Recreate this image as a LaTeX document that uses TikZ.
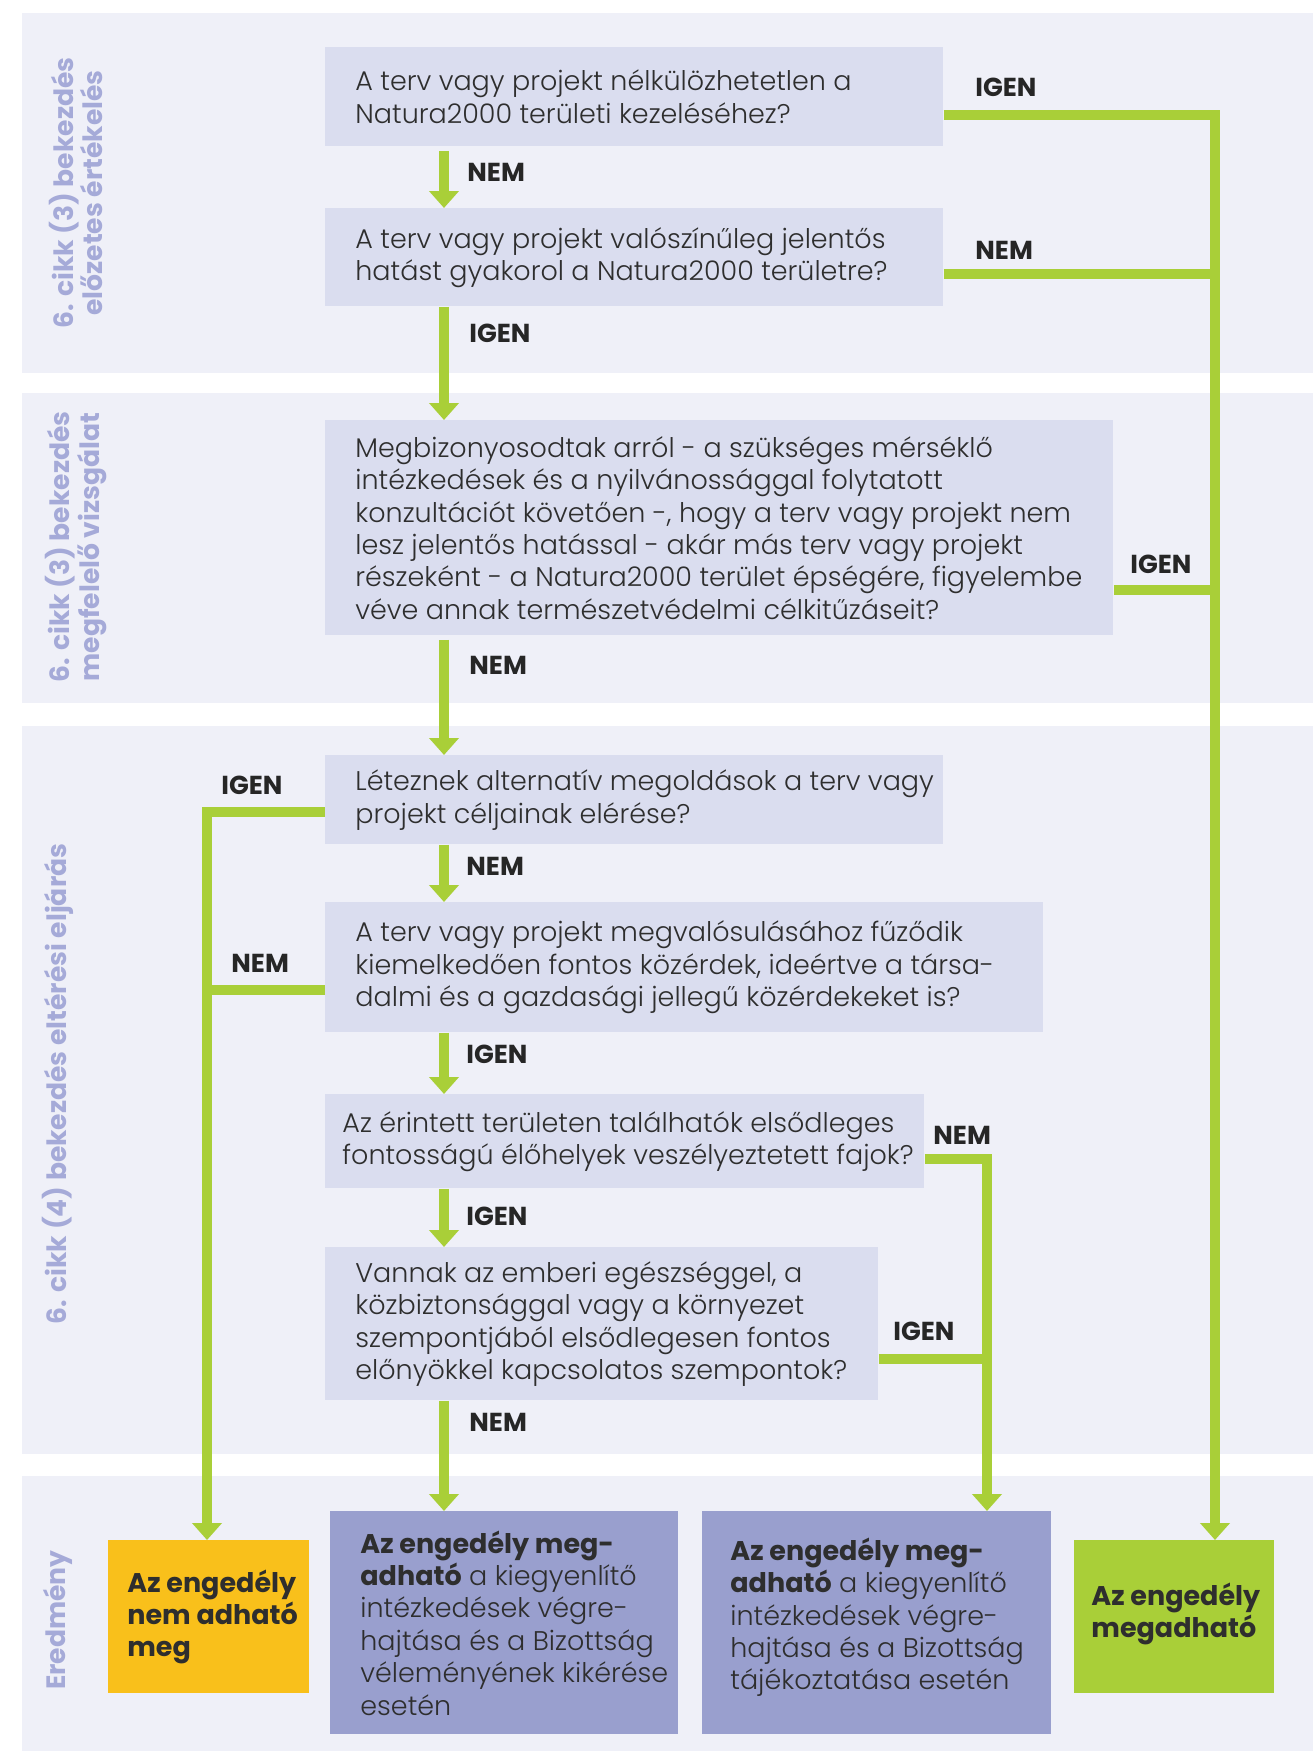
\documentclass[tikz,border=0pt]{standalone}
\usepackage{fontspec}
\setmainfont{Poppins}[UprightFont={* Light},BoldFont={* Bold}]
\usetikzlibrary{arrows.meta,positioning}
\definecolor{bandc}{HTML}{EFF0F8}
\definecolor{boxc}{HTML}{DADDEF}
\definecolor{greenc}{HTML}{A9CF38}
\definecolor{orangec}{HTML}{F9C01B}
\definecolor{purplec}{HTML}{999FCE}
\definecolor{sidec}{HTML}{A5AAD8}
\definecolor{txtc}{HTML}{2E2E2E}
\begin{document}
\begin{tikzpicture}[x=0.5pt,y=-0.5pt,
  qbox/.style={fill=boxc, inner sep=0pt, anchor=north west},
  rbox/.style={inner sep=0pt, anchor=north west},
  qtext/.style={anchor=west, align=left, inner sep=0pt, text=txtc,
    font=\fontsize{13.5}{16.2}\selectfont},
  conn/.style={draw=greenc, line width=5pt},
  arr/.style={conn, -{Triangle[width=14.5pt,length=8.5pt]}},
  yesno/.style={anchor=west, inner sep=0pt, text=black!85,
    font=\bfseries\fontsize{13}{15}\selectfont},
  side/.style={rotate=90, align=center, inner sep=0pt, text=sidec,
    font=\bfseries\fontsize{13.3}{13}\selectfont}]
  \useasboundingbox (0,0) rectangle (1313,1751);
  % bands
  \fill[bandc] (22,13) rectangle (1313,373);
  \fill[bandc] (22,393) rectangle (1313,703);
  \fill[bandc] (22,726) rectangle (1313,1454);
  \fill[bandc] (22,1476) rectangle (1313,1751);
  \node[side] (s1) at (76,193) {6. cikk (3) bekezdés\\előzetes értékelés};
  \node[side] (s2) at (76,547) {6. cikk (3) bekezdés\\megfelelő vizsgálat};
  \node[side] (s3) at (58,1084) {6. cikk (4) bekezdés eltérési eljárás};
  \node[side] (s4) at (58,1620) {Eredmény};
  % questions
  \node[qbox, minimum width=309pt, minimum height=49.5pt] (q1) at (325,47) {};
  \node[qtext] (q1t) at ([xshift=15pt]q1.west)
    {A terv vagy projekt nélkülözhetetlen a\\Natura2000 területi kezeléséhez?};
  \node[qbox, minimum width=309pt, minimum height=49pt] (q2) at (325,208) {};
  \node[qtext] (q2t) at ([xshift=15pt]q2.west)
    {A terv vagy projekt valószínűleg jelentős\\hatást gyakorol a Natura2000 területre?};
  \node[qbox, minimum width=394pt, minimum height=107.5pt] (q3) at (325,420) {};
  \node[qtext] (q3t) at ([xshift=15pt]q3.west)
    {Megbizonyosodtak arról - a szükséges mérséklő\\intézkedések és a nyilvánossággal folytatott\\konzultációt követően -, hogy a terv vagy projekt nem\\lesz jelentős hatással - akár más terv vagy projekt\\részeként - a Natura2000 terület épségére, figyelembe\\véve annak természetvédelmi célkitűzáseit?};
  \node[qbox, minimum width=309pt, minimum height=44.5pt] (q4) at (325,755) {};
  \node[qtext] (q4t) at ([xshift=15pt]q4.west)
    {Léteznek alternatív megoldások a terv vagy\\projekt céljainak elérése?};
  \node[qbox, minimum width=359pt, minimum height=65pt] (q5) at (325,902) {};
  \node[qtext] (q5t) at ([xshift=15pt]q5.west)
    {A terv vagy projekt megvalósulásához fűződik\\kiemelkedően fontos közérdek, ideértve a társa-\\dalmi és a gazdasági jellegű közérdekeket is?};
  \node[qbox, minimum width=299.5pt, minimum height=47pt] (q6) at (325,1094) {};
  \node[qtext] (q6t) at ([xshift=8.5pt]q6.west)
    {Az érintett területen találhatók elsődleges\\fontosságú élőhelyek veszélyeztetett fajok?};
  \node[qbox, minimum width=276.5pt, minimum height=76.5pt] (q7) at (325,1247) {};
  \node[qtext] (q7t) at ([xshift=15pt]q7.west)
    {Vannak az emberi egészséggel, a\\közbiztonsággal vagy a környezet\\szempontjából elsődlegesen fontos\\előnyökkel kapcsolatos szempontok?};
  % results
  \node[rbox, fill=orangec, minimum width=100.5pt, minimum height=76.5pt] (r1) at (108,1540) {};
  \node[qtext] (r1t) at ([xshift=9.5pt]r1.west)
    {\textbf{Az engedély}\\\textbf{nem adható}\\\textbf{meg}};
  \node[rbox, fill=purplec, minimum width=174pt, minimum height=111.5pt] (r2) at (330,1511) {};
  \node[qtext] (r2t) at ([xshift=15pt]r2.west)
    {\textbf{Az engedély meg-}\\\textbf{adható} a kiegyenlítő\\intézkedések végre-\\hajtása és a Bizottság\\véleményének kikérése\\esetén};
  \node[rbox, fill=purplec, minimum width=174.5pt, minimum height=111.5pt] (r3) at (702,1511) {};
  \node[qtext] (r3t) at ([xshift=14pt,yshift=2.8pt]r3.west)
    {\textbf{Az engedély meg-}\\\textbf{adható} a kiegyenlítő\\intézkedések végre-\\hajtása és a Bizottság\\tájékoztatása esetén};
  \node[rbox, fill=greenc, minimum width=100pt, minimum height=76.5pt] (r4) at (1074,1540) {};
  \node[qtext] (r4t) at ([xshift=8.5pt,yshift=1.5pt]r4.west)
    {\textbf{Az engedély}\\\textbf{megadható}};
  % connectors
  \coordinate (rl) at (1215,0);
  \coordinate (ll) at (207,0);
  \coordinate (ml) at (987,0);
  \draw[arr] ([xshift=59.5pt,yshift=-2pt]q1.south west) -- ([xshift=59.5pt]q2.north west);
  \draw[arr] ([xshift=59.5pt]q2.south west) -- ([xshift=59.5pt]q3.north west);
  \draw[arr] ([xshift=59.5pt,yshift=-2pt]q3.south west) -- ([xshift=59.5pt]q4.north west);
  \draw[arr] ([xshift=59.5pt]q4.south west) -- ([xshift=59.5pt]q5.north west);
  \draw[arr] ([xshift=59.5pt]q5.south west) -- ([xshift=59.5pt]q6.north west);
  \draw[arr] ([xshift=59.5pt]q6.south west) -- ([xshift=59.5pt]q7.north west);
  \draw[arr] ([xshift=59.5pt]q7.south west) -- ([xshift=59.5pt]q7.south west |- r2.north);
  \draw[arr] ([yshift=-9.25pt]q1.east) -| (rl |- r4.north);
  \draw[conn] ([yshift=-8.5pt]q2.east) -- ([yshift=-8.5pt]q2.east -| rl);
  \draw[conn] ([yshift=-31pt]q3.east) -- ([yshift=-31pt]q3.east -| rl);
  \draw[arr] ([yshift=-6.25pt]q4.west) -| (ll |- r1.north);
  \draw[conn] ([yshift=-11.5pt]q5.west) -- ([yshift=-11.5pt]q5.west -| ll);
  \draw[arr] ([yshift=-9pt]q6.east) -| (ml |- r3.north);
  \draw[conn] ([yshift=-17.75pt]q7.east) -- ([yshift=-17.75pt]q7.east -| ml);
  % answers
  \node[yesno] (l1) at (467,172) {NEM};
  \node[yesno] (l2) at (975,87) {IGEN};
  \node[yesno] (l3) at (975,250) {NEM};
  \node[yesno] (l4) at (469,333) {IGEN};
  \node[yesno] (l5) at (1130,564) {IGEN};
  \node[yesno] (l6) at (469,665) {NEM};
  \node[yesno] (l7) at (221,785) {IGEN};
  \node[yesno] (l8) at (466,866) {NEM};
  \node[yesno] (l9) at (231,963) {NEM};
  \node[yesno] (l10) at (466,1054) {IGEN};
  \node[yesno] (l11) at (933,1135) {NEM};
  \node[yesno] (l12) at (466,1216) {IGEN};
  \node[yesno] (l13) at (893,1331) {IGEN};
  \node[yesno] (l14) at (469,1422) {NEM};
\end{tikzpicture}
\end{document}
